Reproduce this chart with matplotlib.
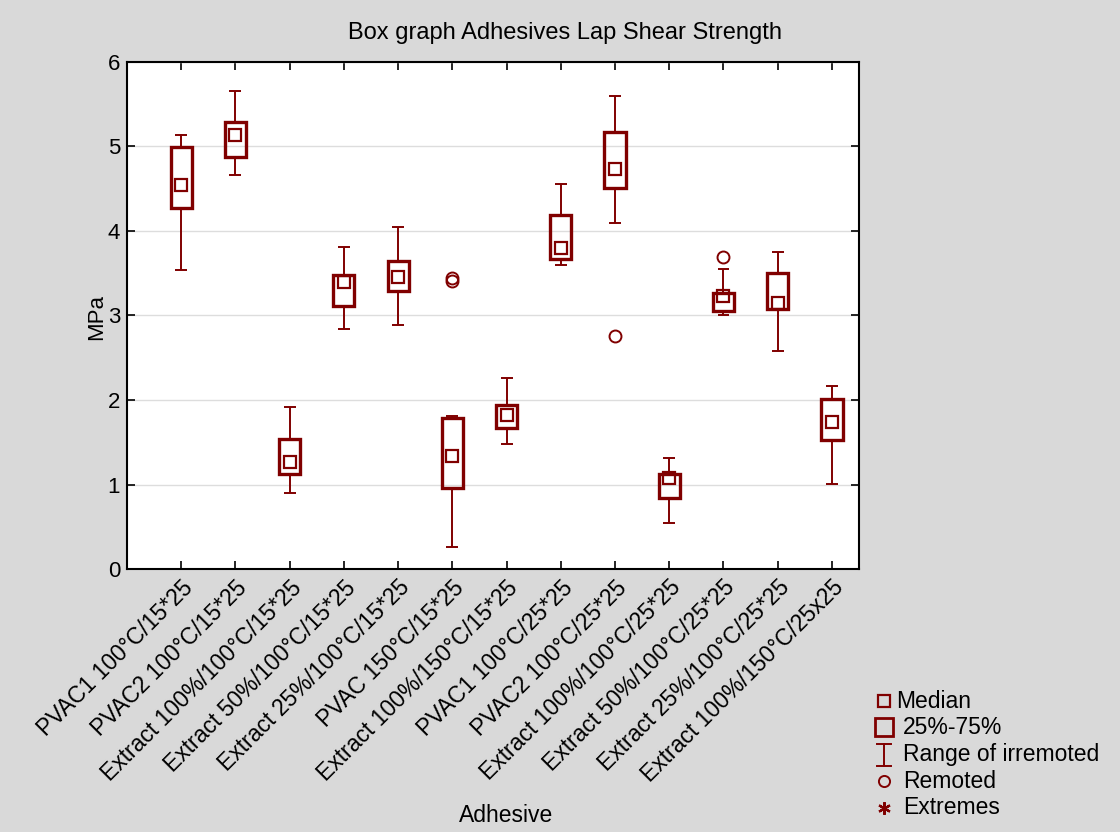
import matplotlib.pyplot as plt
from matplotlib.lines import Line2D

plt.rcParams['font.family'] = ['Liberation Sans', 'DejaVu Sans']

# Adhesive groups
labels = ["PVAC1 100°C/15*25", "PVAC2 100°C/15*25", "Extract 100%/100°C/15*25",
          "Extract 50%/100°C/15*25", "Extract 25%/100°C/15*25", "PVAC 150°C/15*25",
          "Extract 100%/150°C/15*25", "PVAC1 100°C/25*25", "PVAC2 100°C/25*25",
          "Extract 100%/100°C/25*25", "Extract 50%/100°C/25*25",
          "Extract 25%/100°C/25*25", "Extract 100%/150°C/25x25"]

# Box statistics (MPa)
medians = [4.55, 5.14, 1.27, 3.40, 3.46, 1.34, 1.82, 3.80, 4.73, 1.08, 3.23, 3.15, 1.74]
q1 = [4.27, 4.88, 1.12, 3.11, 3.29, 0.96, 1.67, 3.67, 4.51, 0.84, 3.05, 3.08, 1.53]
q3 = [4.99, 5.29, 1.54, 3.48, 3.65, 1.79, 1.94, 4.19, 5.17, 1.12, 3.27, 3.50, 2.01]
whisk_lo = [3.54, 4.66, 0.90, 2.84, 2.89, 0.26, 1.48, 3.60, 4.09, 0.55, 3.01, 2.58, 1.01]
whisk_hi = [5.14, 5.66, 1.92, 3.81, 4.05, 1.81, 2.26, 4.56, 5.60, 1.31, 3.55, 3.75, 2.17]

# Outliers ("remoted") as (group index, value)
outlier_idx = [5, 5, 8, 10]
outlier_val = [3.41, 3.44, 2.76, 3.69]

col = '#800000'
pos = list(range(1, len(labels) + 1))

fig = plt.figure(figsize=(11.2, 8.32), dpi=100, facecolor='#d9d9d9')
ax = fig.add_axes([0.1134, 0.3161, 0.6536, 0.6094])
ax.set_facecolor('white')

heights = [b - a for a, b in zip(q1, q3)]
ax.bar(pos, heights, bottom=q1, width=0.39, fill=False, edgecolor=col, linewidth=2.4, zorder=3)
ax.vlines(pos, whisk_lo, q1, color=col, linewidth=1.4, zorder=2)
ax.vlines(pos, q3, whisk_hi, color=col, linewidth=1.4, zorder=2)
ax.hlines(whisk_lo, [p - 0.11 for p in pos], [p + 0.11 for p in pos], color=col, linewidth=1.4)
ax.hlines(whisk_hi, [p - 0.11 for p in pos], [p + 0.11 for p in pos], color=col, linewidth=1.4)
ax.plot(pos, medians, linestyle='none', marker='s', markersize=8.6, markerfacecolor='none',
        markeredgecolor=col, markeredgewidth=1.6, zorder=4)
ax.plot([pos[i] for i in outlier_idx], outlier_val, linestyle='none', marker='o', markersize=8.6,
        markerfacecolor='none', markeredgecolor=col, markeredgewidth=1.4, zorder=4)

ax.set_xlim(0, 13.5)
ax.set_ylim(0, 6)
ax.set_yticks(range(0, 7))
ax.set_xticks(pos)
ax.set_xticklabels(labels, rotation=45, ha='right', rotation_mode='anchor', fontsize=16.5)
ax.tick_params(axis='y', labelsize=16)
ax.tick_params(direction='in', top=True, right=True, length=6, width=1.2, pad=5)
ax.grid(axis='y', color='#dddddd', linewidth=1)
ax.set_axisbelow(True)
for s in ax.spines.values():
    s.set_linewidth(1.5)

# Text in figure pixel positions
W, H = 1120, 832
def fx(px):
    return px / W
def fy(py):
    return 1 - py / H

fig.text(fx(97), fy(317), "MPa", fontsize=16, rotation=90, ha='center', va='center')
fig.text(fx(565), fy(33), "Box graph Adhesives Lap Shear Strength", fontsize=17,
         ha='center', va='center')
fig.text(fx(506), fy(815), "Adhesive", fontsize=16.5, ha='center', va='center')

# Legend drawn by hand
fig.add_artist(Line2D([fx(884)], [fy(701)], marker='s', markersize=8, markerfacecolor='none',
                      markeredgecolor=col, markeredgewidth=1.6, linestyle='none'))
fig.add_artist(Line2D([fx(884)], [fy(727)], marker='s', markersize=13, markerfacecolor='none',
                      markeredgecolor=col, markeredgewidth=2, linestyle='none'))
fig.add_artist(Line2D([fx(884), fx(884)], [fy(744), fy(766)], color=col, linewidth=1.4))
fig.add_artist(Line2D([fx(877), fx(891)], [fy(744), fy(744)], color=col, linewidth=1.4))
fig.add_artist(Line2D([fx(877), fx(891)], [fy(766), fy(766)], color=col, linewidth=1.4))
fig.add_artist(Line2D([fx(884)], [fy(781)], marker='o', markersize=8, markerfacecolor='none',
                      markeredgecolor=col, markeredgewidth=1.4, linestyle='none'))
fig.add_artist(Line2D([fx(884)], [fy(808)], marker=(6, 2, 0), markersize=9,
                      markeredgecolor=col, markeredgewidth=1.6, linestyle='none'))

leg_text = ["Median", "25%-75%", "Range of irremoted", "Remoted", "Extremes"]
leg_x = [896, 903, 903, 903, 903]
leg_y = [701, 727, 755, 781, 808]
for t, x, y in zip(leg_text, leg_x, leg_y):
    fig.text(fx(x), fy(y), t, fontsize=16.5, va='center', ha='left')

fig.savefig("out.png", dpi=100, facecolor=fig.get_facecolor())
